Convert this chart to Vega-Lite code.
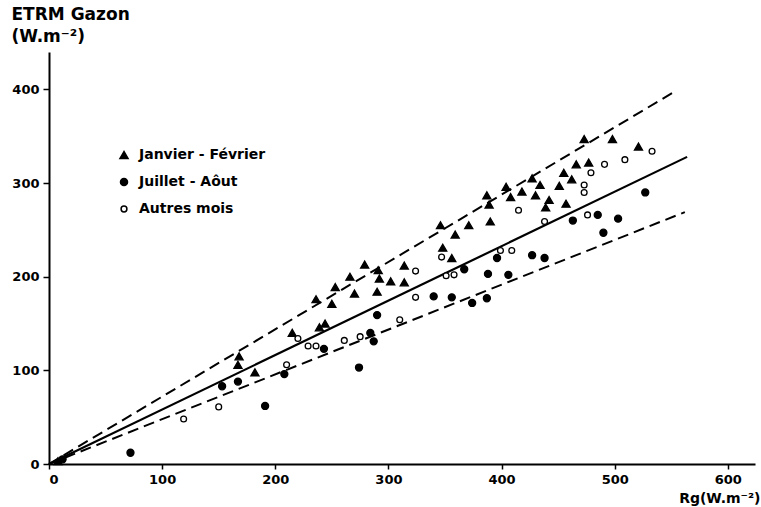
{
  "$schema": "https://vega.github.io/schema/vega-lite/v6.json",
  "width": 706,
  "height": 412,
  "autosize": {"type": "none"},
  "padding": {"left": 49, "top": 52, "right": 6, "bottom": 43},
  "background": "white",
  "config": {
    "view": {"stroke": null},
    "font": "DejaVu Sans",
    "axis": {
      "domainColor": "black", "domainWidth": 2, "tickColor": "black", "tickWidth": 1.5,
      "grid": false, "labelColor": "black", "labelFont": "DejaVu Sans", "labelFontWeight": "bold",
      "labelFontSize": 13, "titleColor": "black", "titleFont": "DejaVu Sans", "titleFontWeight": "bold"
    },
    "legend": {
      "orient": "none", "legendX": 68, "legendY": 96, "labelFont": "DejaVu Sans", "labelFontWeight": "bold",
      "labelFontSize": 14, "labelColor": "black", "rowPadding": 13, "labelOffset": 8, "padding": 0
    }
  },
  "datasets": {
    "lines": [
      {"line": "upper", "x": 0, "y": 0}, {"line": "upper", "x": 552, "y": 397},
      {"line": "lower", "x": 0, "y": 0}, {"line": "lower", "x": 562, "y": 269},
      {"line": "mean", "x": 0, "y": 0}, {"line": "mean", "x": 564, "y": 328}
    ],
    "points": [
      {"groupe": "Janvier - Février", "x": 473, "y": 347},
      {"groupe": "Janvier - Février", "x": 498, "y": 347},
      {"groupe": "Janvier - Février", "x": 521, "y": 339},
      {"groupe": "Janvier - Février", "x": 466, "y": 320},
      {"groupe": "Janvier - Février", "x": 477, "y": 322},
      {"groupe": "Janvier - Février", "x": 455, "y": 311},
      {"groupe": "Janvier - Février", "x": 462, "y": 304},
      {"groupe": "Janvier - Février", "x": 451, "y": 297},
      {"groupe": "Janvier - Février", "x": 457, "y": 278},
      {"groupe": "Janvier - Février", "x": 427, "y": 305},
      {"groupe": "Janvier - Février", "x": 434, "y": 298},
      {"groupe": "Janvier - Février", "x": 404, "y": 296},
      {"groupe": "Janvier - Février", "x": 387, "y": 287},
      {"groupe": "Janvier - Février", "x": 418, "y": 291},
      {"groupe": "Janvier - Février", "x": 408, "y": 285},
      {"groupe": "Janvier - Février", "x": 430, "y": 287},
      {"groupe": "Janvier - Février", "x": 442, "y": 282},
      {"groupe": "Janvier - Février", "x": 389, "y": 277},
      {"groupe": "Janvier - Février", "x": 439, "y": 274},
      {"groupe": "Janvier - Février", "x": 371, "y": 255},
      {"groupe": "Janvier - Février", "x": 390, "y": 259},
      {"groupe": "Janvier - Février", "x": 359, "y": 245},
      {"groupe": "Janvier - Février", "x": 346, "y": 255},
      {"groupe": "Janvier - Février", "x": 348, "y": 231},
      {"groupe": "Janvier - Février", "x": 356, "y": 220},
      {"groupe": "Janvier - Février", "x": 279, "y": 213},
      {"groupe": "Janvier - Février", "x": 266, "y": 200},
      {"groupe": "Janvier - Février", "x": 253, "y": 189},
      {"groupe": "Janvier - Février", "x": 270, "y": 182},
      {"groupe": "Janvier - Février", "x": 291, "y": 207},
      {"groupe": "Janvier - Février", "x": 292, "y": 198},
      {"groupe": "Janvier - Février", "x": 290, "y": 184},
      {"groupe": "Janvier - Février", "x": 302, "y": 195},
      {"groupe": "Janvier - Février", "x": 314, "y": 194},
      {"groupe": "Janvier - Février", "x": 314, "y": 212},
      {"groupe": "Janvier - Février", "x": 250, "y": 171},
      {"groupe": "Janvier - Février", "x": 236, "y": 176},
      {"groupe": "Janvier - Février", "x": 215, "y": 140},
      {"groupe": "Janvier - Février", "x": 239, "y": 146},
      {"groupe": "Janvier - Février", "x": 244, "y": 150},
      {"groupe": "Janvier - Février", "x": 168, "y": 115},
      {"groupe": "Janvier - Février", "x": 167, "y": 106},
      {"groupe": "Janvier - Février", "x": 182, "y": 98},
      {"groupe": "Janvier - Février", "x": 8, "y": 3},
      {"groupe": "Juillet - Aôut", "x": 527, "y": 290},
      {"groupe": "Juillet - Aôut", "x": 485, "y": 266},
      {"groupe": "Juillet - Aôut", "x": 463, "y": 260},
      {"groupe": "Juillet - Aôut", "x": 503, "y": 262},
      {"groupe": "Juillet - Aôut", "x": 490, "y": 247},
      {"groupe": "Juillet - Aôut", "x": 396, "y": 220},
      {"groupe": "Juillet - Aôut", "x": 427, "y": 223},
      {"groupe": "Juillet - Aôut", "x": 438, "y": 220},
      {"groupe": "Juillet - Aôut", "x": 367, "y": 208},
      {"groupe": "Juillet - Aôut", "x": 388, "y": 203},
      {"groupe": "Juillet - Aôut", "x": 406, "y": 202},
      {"groupe": "Juillet - Aôut", "x": 340, "y": 179},
      {"groupe": "Juillet - Aôut", "x": 356, "y": 178},
      {"groupe": "Juillet - Aôut", "x": 374, "y": 172},
      {"groupe": "Juillet - Aôut", "x": 387, "y": 177},
      {"groupe": "Juillet - Aôut", "x": 290, "y": 159},
      {"groupe": "Juillet - Aôut", "x": 243, "y": 123},
      {"groupe": "Juillet - Aôut", "x": 284, "y": 140},
      {"groupe": "Juillet - Aôut", "x": 287, "y": 131},
      {"groupe": "Juillet - Aôut", "x": 274, "y": 103},
      {"groupe": "Juillet - Aôut", "x": 208, "y": 96},
      {"groupe": "Juillet - Aôut", "x": 153, "y": 83},
      {"groupe": "Juillet - Aôut", "x": 167, "y": 88},
      {"groupe": "Juillet - Aôut", "x": 191, "y": 62},
      {"groupe": "Juillet - Aôut", "x": 72, "y": 12},
      {"groupe": "Juillet - Aôut", "x": 12, "y": 5},
      {"groupe": "Autres mois", "x": 533, "y": 334},
      {"groupe": "Autres mois", "x": 509, "y": 325},
      {"groupe": "Autres mois", "x": 491, "y": 320},
      {"groupe": "Autres mois", "x": 479, "y": 311},
      {"groupe": "Autres mois", "x": 473, "y": 298},
      {"groupe": "Autres mois", "x": 473, "y": 290},
      {"groupe": "Autres mois", "x": 476, "y": 266},
      {"groupe": "Autres mois", "x": 415, "y": 271},
      {"groupe": "Autres mois", "x": 438, "y": 259},
      {"groupe": "Autres mois", "x": 399, "y": 228},
      {"groupe": "Autres mois", "x": 409, "y": 228},
      {"groupe": "Autres mois", "x": 347, "y": 221},
      {"groupe": "Autres mois", "x": 351, "y": 201},
      {"groupe": "Autres mois", "x": 358, "y": 202},
      {"groupe": "Autres mois", "x": 324, "y": 206},
      {"groupe": "Autres mois", "x": 324, "y": 178},
      {"groupe": "Autres mois", "x": 310, "y": 154},
      {"groupe": "Autres mois", "x": 220, "y": 134},
      {"groupe": "Autres mois", "x": 229, "y": 126},
      {"groupe": "Autres mois", "x": 236, "y": 126},
      {"groupe": "Autres mois", "x": 261, "y": 132},
      {"groupe": "Autres mois", "x": 275, "y": 136},
      {"groupe": "Autres mois", "x": 210, "y": 106},
      {"groupe": "Autres mois", "x": 150, "y": 61},
      {"groupe": "Autres mois", "x": 119, "y": 48}
    ]
  },
  "encoding": {
    "x": {
      "field": "x", "type": "quantitative",
      "scale": {"domain": [0, 624], "nice": false, "zero": true},
      "axis": {
        "values": [0, 100, 200, 300, 400, 500, 600], "tickSize": 5, "labelPadding": 4,
        "title": "Rg(W.m⁻²)", "titleFontSize": 14, "titleAlign": "right", "titleAnchor": null,
        "titleX": 711, "titleY": 38, "titleBaseline": "alphabetic"
      }
    },
    "y": {
      "field": "y", "type": "quantitative",
      "scale": {"domain": [0, 440], "nice": false},
      "axis": {
        "values": [0, 100, 200, 300, 400], "tickSize": 6, "labelPadding": 4,
        "title": ["ETRM Gazon", "(W.m⁻²)"], "titleFontSize": 17, "titleAngle": 0,
        "titleAlign": "left", "titleBaseline": "top", "titleX": -38, "titleY": -46, "titleLineHeight": 22
      }
    }
  },
  "layer": [
    {
      "data": {"name": "lines"},
      "transform": [{"filter": "datum.line != 'mean'"}],
      "mark": {"type": "line", "color": "black", "strokeWidth": 2, "strokeDash": [11, 6]},
      "encoding": {"detail": {"field": "line"}}
    },
    {
      "data": {"name": "lines"},
      "transform": [{"filter": "datum.line == 'mean'"}],
      "mark": {"type": "line", "color": "black", "strokeWidth": 2.2},
      "encoding": {}
    },
    {
      "data": {"name": "points"},
      "mark": {"type": "point", "filled": true, "stroke": "black", "strokeWidth": 1.3, "opacity": 1},
      "encoding": {
        "shape": {
          "field": "groupe", "type": "nominal",
          "scale": {"domain": ["Janvier - Février", "Juillet - Aôut", "Autres mois"], "range": ["triangle-up", "circle", "circle"]},
          "legend": {"title": null, "encode": {"symbols": {"update": {"stroke": {"value": "black"}, "strokeWidth": {"value": 1.2}, "opacity": {"value": 1}}}}}
        },
        "fill": {
          "field": "groupe", "type": "nominal",
          "scale": {"domain": ["Janvier - Février", "Juillet - Aôut", "Autres mois"], "range": ["black", "black", "white"]},
          "legend": {"title": null, "encode": {"symbols": {"update": {"stroke": {"value": "black"}, "strokeWidth": {"value": 1.2}, "opacity": {"value": 1}}}}}
        },
        "size": {
          "field": "groupe", "type": "nominal",
          "scale": {"domain": ["Janvier - Février", "Juillet - Aôut", "Autres mois"], "range": [65, 34, 48]},
          "legend": {"title": null, "encode": {"symbols": {"update": {"stroke": {"value": "black"}, "strokeWidth": {"value": 1.2}, "opacity": {"value": 1}}}}}
        }
      }
    }
  ]
}
